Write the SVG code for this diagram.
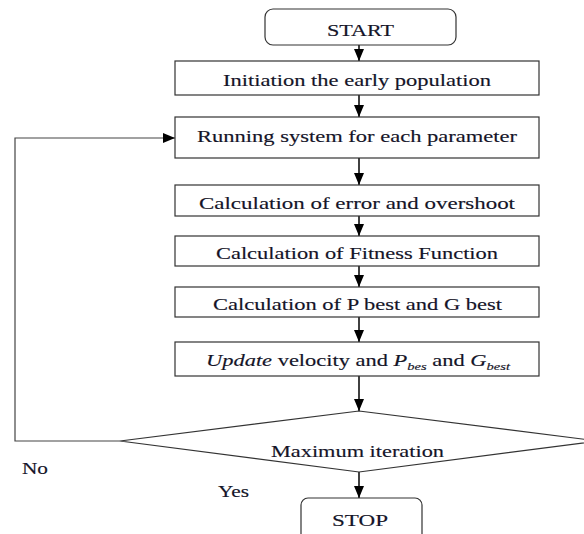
<svg xmlns="http://www.w3.org/2000/svg" width="584" height="534" viewBox="0 0 584 534">
<style>
.box{fill:#fff;stroke:#333;stroke-width:1.2}
.t{font-family:'Liberation Serif','DejaVu Serif',serif;font-size:17px;fill:#141428;stroke:#141428;stroke-width:0.15;text-anchor:middle}
.l{font-family:'Liberation Serif','DejaVu Serif',serif;font-size:16px;fill:#141428;stroke:#141428;stroke-width:0.15}
.c{fill:none;stroke:#111;stroke-width:1.6}
</style>
<defs>
<marker id="ah" viewBox="0 0 12 10" refX="12" refY="5" markerWidth="12" markerHeight="10" markerUnits="userSpaceOnUse" orient="auto">
<path d="M0,0 L12,5 L0,10 Z" fill="#000"/>
</marker>
</defs>
<rect width="584" height="534" fill="#fff"/>
<g id="connectors">
<line class="c" x1="359" y1="45" x2="359" y2="61" marker-end="url(#ah)"/>
<line class="c" x1="359" y1="95" x2="359" y2="117" marker-end="url(#ah)"/>
<line class="c" x1="359" y1="158" x2="359" y2="185" marker-end="url(#ah)"/>
<line class="c" x1="359" y1="216" x2="359" y2="236" marker-end="url(#ah)"/>
<line class="c" x1="359" y1="266" x2="359" y2="287" marker-end="url(#ah)"/>
<line class="c" x1="359" y1="317" x2="359" y2="342" marker-end="url(#ah)"/>
<line class="c" x1="359" y1="376" x2="359" y2="411" marker-end="url(#ah)"/>
<line class="c" x1="359" y1="472" x2="359" y2="498" marker-end="url(#ah)"/>
<polyline points="120,441 15,441 15,138 175,138" fill="none" stroke="#444" stroke-width="1.2" marker-end="url(#ah)"/>
<text class="l" x="22" y="474" textLength="26" lengthAdjust="spacingAndGlyphs">No</text>
<text class="l" x="218" y="497" textLength="31" lengthAdjust="spacingAndGlyphs">Yes</text>
</g>
<g id="start">
<rect class="box" x="265" y="9" width="191" height="36" rx="8"/>
<text class="t" x="360.5" y="36" textLength="67" lengthAdjust="spacingAndGlyphs">START</text>
</g>
<g id="init">
<rect class="box" x="175" y="61" width="364" height="34"/>
<text class="t" x="357" y="86" textLength="268" lengthAdjust="spacingAndGlyphs">Initiation the early population</text>
</g>
<g id="running">
<rect class="box" x="175" y="117" width="364" height="41"/>
<text class="t" x="357" y="142" textLength="320" lengthAdjust="spacingAndGlyphs">Running system for each parameter</text>
</g>
<g id="error">
<rect class="box" x="175" y="185" width="364" height="31"/>
<text class="t" x="357" y="209" textLength="316" lengthAdjust="spacingAndGlyphs">Calculation of error and overshoot</text>
</g>
<g id="fitness">
<rect class="box" x="175" y="236" width="364" height="30"/>
<text class="t" x="357" y="259" textLength="282" lengthAdjust="spacingAndGlyphs">Calculation of Fitness Function</text>
</g>
<g id="pbest">
<rect class="box" x="175" y="287" width="364" height="30"/>
<text class="t" x="357.5" y="310" textLength="289" lengthAdjust="spacingAndGlyphs">Calculation of P best and G best</text>
</g>
<g id="update">
<rect class="box" x="175" y="342" width="364" height="34"/>
<text class="t" x="358" y="366" textLength="304" lengthAdjust="spacingAndGlyphs"><tspan font-style="italic">Update</tspan> velocity and <tspan font-style="italic">P</tspan><tspan font-style="italic" font-size="11" dy="4">bes</tspan><tspan dy="-4"> and </tspan><tspan font-style="italic">G</tspan><tspan font-style="italic" font-size="11" dy="4">best</tspan></text>
</g>
<g id="decision">
<polygon class="box" points="359,411 598,441 359,472 120,441"/>
<text class="t" x="357.5" y="457" font-size="16" textLength="173" lengthAdjust="spacingAndGlyphs">Maximum iteration</text>
</g>
<g id="stop">
<rect class="box" x="301" y="498" width="121" height="46" rx="7"/>
<text class="t" x="360" y="526" textLength="56" lengthAdjust="spacingAndGlyphs">STOP</text>
</g>
</svg>
